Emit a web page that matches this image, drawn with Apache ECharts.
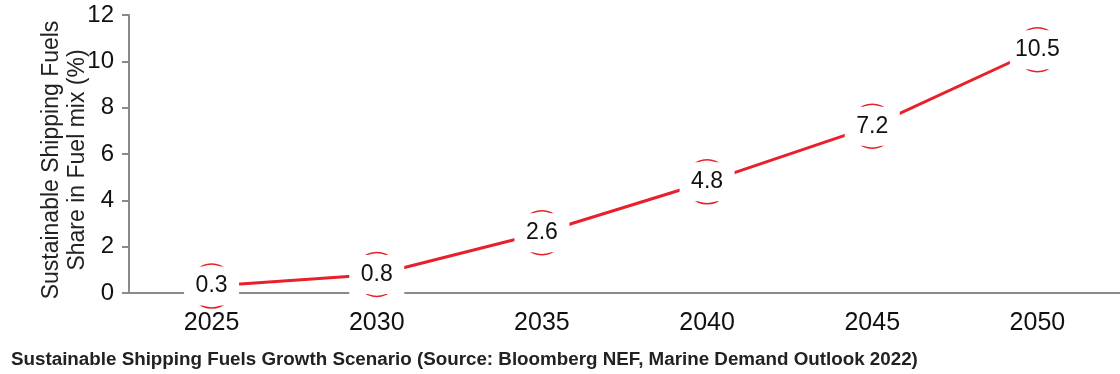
<!DOCTYPE html>
<html>
<head>
<meta charset="utf-8">
<script src="https://cdn.jsdelivr.net/npm/echarts@6/dist/echarts.min.js"></script>
<style>
html,body{margin:0;padding:0;background:#fff;}
#chart{width:1120px;height:374px;}
</style>
</head>
<body>
<div id="chart"></div>
<script>
const years = ['2025', '2030', '2035', '2040', '2045', '2050'];
const shares = [0.3, 0.8, 2.6, 4.8, 7.2, 10.5];
const yTicks = { min: 0, max: 12, interval: 2 };
const yAxisName = 'Sustainable Shipping Fuels\nShare in Fuel mix (%)';
const caption = 'Sustainable Shipping Fuels Growth Scenario (Source: Bloomberg NEF, Marine Demand Outlook 2022)';

const font = '"Liberation Sans", Arial, sans-serif';
const red = '#e8202a';
const axisGray = '#8a8a8a';

const chart = echarts.init(document.getElementById('chart'), null, { renderer: 'canvas' });
chart.setOption({
  animation: false,
  backgroundColor: '#fff',
  title: {
    text: caption,
    left: 6,
    top: 345,
    textStyle: { fontFamily: font, fontWeight: 'bold', fontSize: 18.8, color: '#222' }
  },
  grid: { left: 129, right: 0, top: 15, bottom: 81 },
  xAxis: {
    type: 'category',
    data: years,
    boundaryGap: true,
    axisLine: { lineStyle: { color: axisGray, width: 2 } },
    axisTick: { show: false },
    axisLabel: { fontFamily: font, fontSize: 25, color: '#111', margin: 18 }
  },
  yAxis: {
    type: 'value',
    min: yTicks.min,
    max: yTicks.max,
    interval: yTicks.interval,
    name: yAxisName,
    nameLocation: 'middle',
    nameRotate: 90,
    nameGap: 38,
    nameMoveOverlap: false,
    nameTextStyle: { fontFamily: font, fontSize: 23, color: '#222', lineHeight: 26, padding: [0, 12, 0, 0] },
    axisLine: { show: true, lineStyle: { color: axisGray, width: 2 } },
    axisTick: { show: true, length: 7, lineStyle: { color: axisGray, width: 2 } },
    splitLine: { show: false },
    axisLabel: { fontFamily: font, fontSize: 24, color: '#111', margin: 15 }
  },
  series: [{
    type: 'line',
    data: shares,
    lineStyle: { color: red, width: 3 },
    symbol: 'circle',
    symbolSize: 44,
    itemStyle: { color: '#fff', borderColor: red, borderWidth: 1.5 },
    label: {
      show: true,
      position: 'inside',
      fontFamily: font,
      fontSize: 23,
      color: '#111',
      backgroundColor: '#fff',
      width: 55,
      height: 39,
      lineHeight: 39,
      align: 'center',
      verticalAlign: 'middle'
    },
    z: 3
  }]
});
</script>
</body>
</html>
